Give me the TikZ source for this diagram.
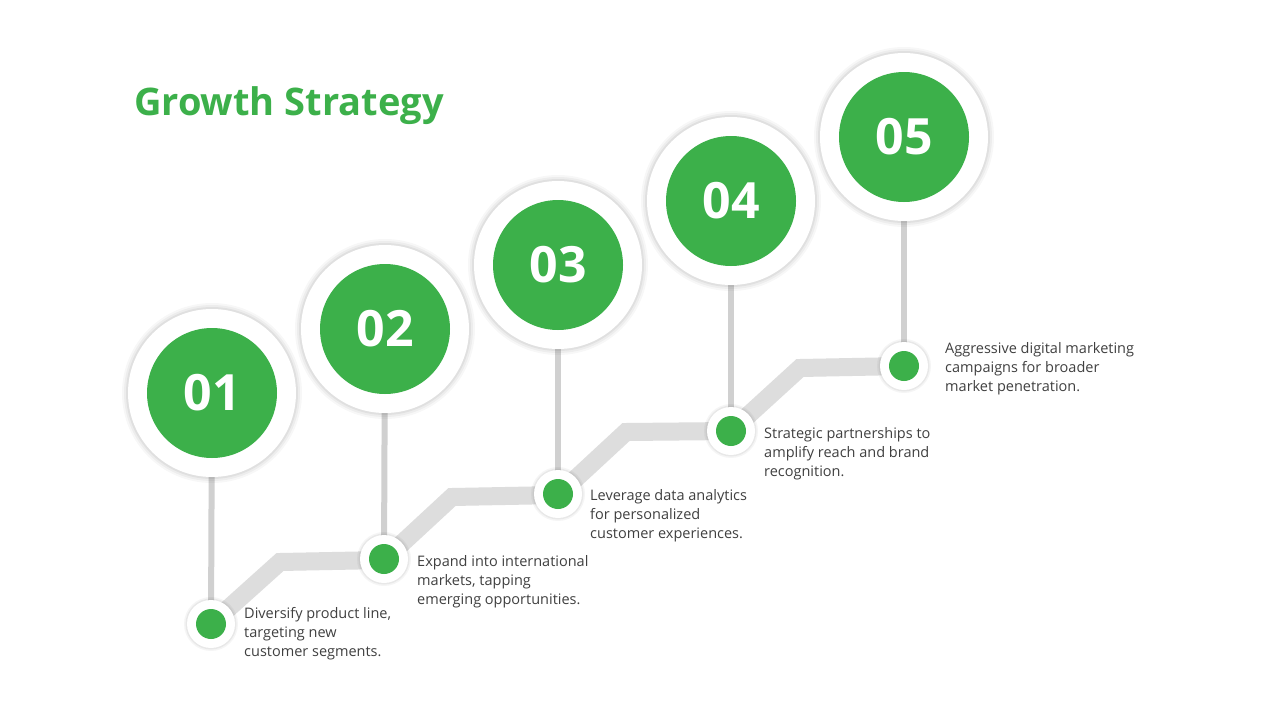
\documentclass[tikz,border=0pt]{standalone}
\usepackage{fontspec}
\setmainfont{Open Sans}
\begin{document}
\begin{tikzpicture}[x=1pt,y=-1pt,
  bigout/.style={circle,fill=white,minimum size=168pt,inner sep=0pt},
  biggreen/.style={circle,fill=gbase,minimum size=130pt,inner sep=0pt,text=white,font=\fontsize{50}{50}\selectfont\bfseries},
  smallout/.style={circle,fill=white,minimum size=48pt,inner sep=0pt},
  smallgreen/.style={circle,fill=gbase,minimum size=30pt,inner sep=0pt},
  desc/.style={anchor=north west,align=left,text=dtext,font=\fontsize{14.5}{19}\selectfont,inner sep=0pt},
  stem/.style={draw=stemc,line width=6pt},
  band/.style={draw=bandc,line width=18pt,line join=miter}]
\definecolor{gbase}{HTML}{3CB04A}
\definecolor{dtext}{HTML}{404040}
\definecolor{stemc}{HTML}{D0D0D0}
\definecolor{bandc}{HTML}{DDDDDD}
\useasboundingbox (0,0) rectangle (1280,720);
\fill[white] (0,0) rectangle (1280,720);
\node[anchor=west,text=gbase,font=\fontsize{38}{38}\selectfont\bfseries,inner sep=0pt] (title) at (134,106) {Growth Strategy};
% band
\coordinate (b1) at (211,624);
\coordinate (k1) at (280,562);
\coordinate (b2) at (384,560);
\coordinate (k2) at (452,497);
\coordinate (b3) at (558,495);
\coordinate (k3) at (626,432);
\coordinate (b4) at (731,431);
\coordinate (k4) at (800,368);
\coordinate (b5) at (904,366);
\draw[band] (b1)--(k1)--(b2)--(k2)--(b3)--(k3)--(b4)--(k4)--(b5);
\foreach \i/\x/\y/\sx/\sy in {1/212/393/211/624,2/385/329/384/559,3/558/265/558/494,4/731/201/731/431,5/904/137/904/366}{
  \coordinate (c\i) at (\x,\y);
  \coordinate (s\i) at (\sx,\sy);
  \draw[stem] (c\i)--(s\i);
  \foreach \r/\o in {90/0.03,88/0.04,86/0.05}{\fill[black,opacity=\o] (\x,\y) circle (\r);}
  \node[bigout] (o\i) at (c\i) {};
  \foreach \r/\o in {27/0.04,25.5/0.05}{\fill[black,opacity=\o] (\sx,\sy) circle (\r);}
  \node[smallout] (so\i) at (s\i) {};
  \node[smallgreen] (sg\i) at (s\i) {};
}
\node[biggreen] (g1) at (c1) {01};
\node[biggreen] (g2) at (c2) {02};
\node[biggreen] (g3) at (c3) {03};
\node[biggreen] (g4) at (c4) {04};
\node[biggreen] (g5) at (c5) {05};
\node[desc] (d1) at (244,607) {Diversify product line,\\targeting new\\customer segments.};
\node[desc] (d2) at (417,555) {Expand into international\\markets, tapping\\emerging opportunities.};
\node[desc] (d3) at (590,489) {Leverage data analytics\\for personalized\\customer experiences.};
\node[desc] (d4) at (764,427) {Strategic partnerships to\\amplify reach and brand\\recognition.};
\node[desc] (d5) at (945,342) {Aggressive digital marketing\\campaigns for broader\\market penetration.};
\end{tikzpicture}
\end{document}
